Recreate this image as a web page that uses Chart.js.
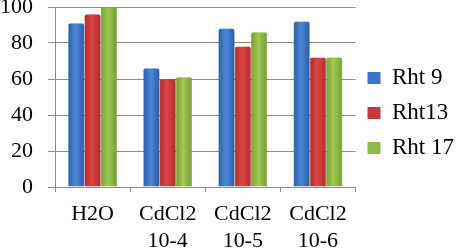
<!DOCTYPE html>
<html>
<head>
<meta charset="utf-8">
<script src="https://cdn.jsdelivr.net/npm/chart.js@4"></script>
<style>
  html, body { margin: 0; padding: 0; background: #fff; }
  #wrap { width: 457px; height: 249px; }
</style>
</head>
<body>
<div id="wrap"><canvas id="rhtChart" width="457" height="249"></canvas></div>
<script>
var categories = ['H2O', ['CdCl2', '10-4'], ['CdCl2', '10-5'], ['CdCl2', '10-6']];
var rht9 = [91, 66, 88, 92];
var rht13 = [96, 60, 78, 72];
var rht17 = [100, 61, 86, 72];
var yTicks = [0, 20, 40, 60, 80, 100];

var catPct = 0.65;
var barPct = 1.0;
var serif = "'Liberation Serif', 'Times New Roman', 'DejaVu Serif', serif";

// horizontal shading per bar, like the old office 3d-ish bars
function shade(dark, light) {
    return function (c) {
        var chart = c.chart;
        var xs = chart.scales.x;
        if (!xs || c.dataIndex === undefined) return dark;
        var n = categories.length;
        var catW = xs.width / n;
        var group = catW * catPct;
        var slot = group / 3;
        var center = xs.getPixelForValue(c.dataIndex);
        var bx = center - group / 2 + slot * c.datasetIndex;
        var g = chart.ctx.createLinearGradient(bx, 0, bx + slot, 0);
        g.addColorStop(0, dark);
        g.addColorStop(0.45, light);
        g.addColorStop(1, dark);
        return g;
    };
}

var ctx = document.getElementById('rhtChart').getContext('2d');
var rhtChart = new Chart(ctx, {
    type: 'bar',
    data: {
        labels: categories,
        datasets: [{
            label: 'Rht 9',
            data: rht9,
            backgroundColor: shade('#2b5ca6', '#4b88d8'),
            borderColor: '#2a5494',
            borderWidth: 0.5,
            borderRadius: { topLeft: 2, topRight: 2 }
        }, {
            label: 'Rht13',
            data: rht13,
            backgroundColor: shade('#b02c2c', '#dc4644'),
            borderColor: '#902424',
            borderWidth: 0.5,
            borderRadius: { topLeft: 2, topRight: 2 }
        }, {
            label: 'Rht 17',
            data: rht17,
            backgroundColor: shade('#779e32', '#a0c852'),
            borderColor: '#68882c',
            borderWidth: 0.5,
            borderRadius: { topLeft: 2, topRight: 2 }
        }]
    },
    options: {
        responsive: false,
        animation: false,
        categoryPercentage: catPct,
        barPercentage: barPct,
        layout: { padding: { top: 0, right: -7, left: 0, bottom: -14 } },
        plugins: {
            tooltip: { enabled: false },
            legend: {
                position: 'right',
                fullSize: false,
                title: { display: true, text: '', font: { size: 10 }, padding: { top: 0, bottom: 20 } },
                labels: {
                    color: '#000',
                    boxWidth: 13,
                    boxHeight: 12,
                    padding: 12,
                    font: { family: serif, size: 23 },
                    generateLabels: function (chart) {
                        var cols = ['#3a74c6', '#c83838', '#8fba45'];
                        return chart.data.datasets.map(function (ds, i) {
                            return {
                                text: ds.label,
                                fillStyle: cols[i],
                                strokeStyle: cols[i],
                                lineWidth: 0,
                                fontColor: '#000',
                                datasetIndex: i
                            };
                        });
                    }
                }
            }
        },
        scales: {
            y: {
                min: 0,
                max: 100,
                afterBuildTicks: function (axis) {
                    axis.ticks = yTicks.map(function (v) { return { value: v }; });
                },
                afterFit: function (axis) {
                    // "100" sits half cut at the top edge in the original
                    axis.paddingTop = 7;
                    axis.paddingBottom = 0;
                    axis.width = 55;
                },
                ticks: {
                    color: '#000',
                    padding: 15,
                    font: { family: serif, size: 22 }
                },
                grid: { color: '#8c8c8c', lineWidth: 1, tickLength: 7 },
                border: { color: '#8c8c8c' }
            },
            x: {
                ticks: {
                    color: '#000',
                    padding: 8,
                    font: { family: serif, size: 22, lineHeight: 1.25 },
                    maxRotation: 0
                },
                grid: { color: '#8c8c8c', drawOnChartArea: false, tickLength: 5, offset: true },
                border: { color: '#8c8c8c' }
            }
        }
    }
});
</script>
</body>
</html>
